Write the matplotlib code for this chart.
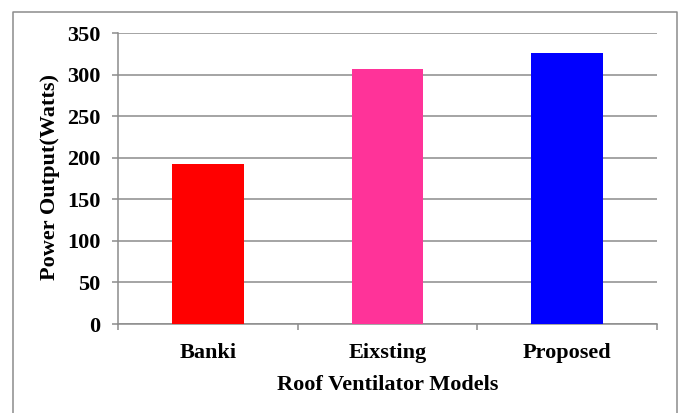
import matplotlib
matplotlib.use('Agg')
import matplotlib.pyplot as plt
from matplotlib.lines import Line2D

# ── 数据 ──
models = ['Banki', 'Eixsting', 'Proposed']
power = [192.5, 307, 326]
colors = ['#ff0000', '#ff3399', '#0000ff']
yticks = [0, 50, 100, 150, 200, 250, 300, 350]

GRAY = '#8c8c8c'
plt.rcParams['font.family'] = ['Liberation Serif', 'DejaVu Serif']
plt.rcParams['font.weight'] = 'bold'

W, H = 678, 413
fig = plt.figure(figsize=(W / 100, H / 100), dpi=100)
ax = fig.add_axes([118 / W, 1 - 324 / H, (657 - 118) / W, (324 - 33.3) / H])

x = range(len(models))
ax.bar(x, power, width=0.4, color=colors, zorder=3)

ax.set_ylim(0, 350)
ax.set_xlim(-0.5, len(models) - 0.5)
ax.set_yticks(yticks)
ax.set_xticks(list(x))
ax.set_xticklabels(models)
ax.set_xticks([i - 0.5 for i in range(len(models) + 1)], minor=True)

ax.grid(axis='y', color=GRAY, linewidth=1.1, zorder=0)
ax.set_axisbelow(True)
for s in ['top', 'right']:
    ax.spines[s].set_visible(False)
for s in ['left', 'bottom']:
    ax.spines[s].set_color(GRAY)
    ax.spines[s].set_linewidth(1.1)

FS = 16
ax.tick_params(axis='y', which='major', direction='out', length=4.3, width=1.1,
               color=GRAY, pad=8.4, labelsize=FS)
ax.tick_params(axis='x', which='major', length=0, pad=14, labelsize=FS)
ax.tick_params(axis='x', which='minor', direction='out', length=4.3, width=1.1, color=GRAY)

ax.set_xlabel('Roof Ventilator Models', fontsize=FS, fontweight='bold', labelpad=8)
fig.text(50 / W, 1 - 177 / H, 'Power Output(Watts)', rotation=90, ha='center', va='center',
         fontsize=FS, fontweight='bold')

# 外框
frame = Line2D([13 / W, 13 / W, 677 / W, 677 / W], [0, 1 - 12 / H, 1 - 12 / H, 0],
               transform=fig.transFigure, color=GRAY, linewidth=1.1)
fig.add_artist(frame)

fig.savefig('out.png', dpi=100, facecolor='white')
